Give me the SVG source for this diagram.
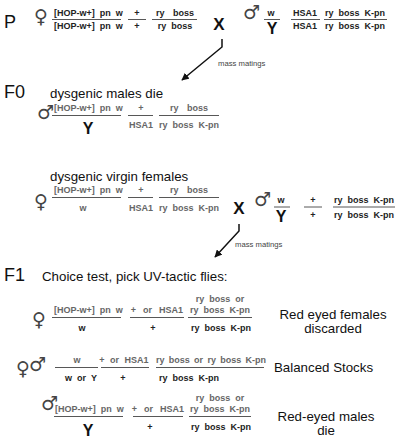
<svg xmlns="http://www.w3.org/2000/svg" width="401" height="443" viewBox="0 0 401 443">
<defs>
<style>
text{font-family:"Liberation Sans",Arial,sans-serif;}
.gen{font-size:18px;fill:#111;}
.lab{font-size:13.3px;fill:#111;}
.g{font-size:9px;font-weight:bold;fill:#222;word-spacing:2.5px;}
.gl{font-size:9px;font-weight:bold;fill:#666;word-spacing:2.5px;}
.or{word-spacing:4.5px;}
.c{text-anchor:middle;}
.big{font-size:16px;font-weight:bold;fill:#111;text-anchor:middle;}
.x{font-size:17px;font-weight:bold;fill:#111;text-anchor:middle;}
.sym{font-family:"DejaVu Sans",sans-serif;font-size:19px;fill:#444;}
.mm{font-size:7.7px;fill:#444;}
.bar{stroke:#444;stroke-width:0.9;}
.conn{stroke:#111;stroke-width:1.5;fill:none;}
</style>
<marker id="ah" viewBox="0 0 10 10" refX="9" refY="5" markerWidth="5" markerHeight="5" orient="auto">
<path d="M0,0 L10,5 L0,10 z" fill="#111"/>
</marker>
</defs>
<rect width="401" height="443" fill="#fff"/>

<g id="labels">
<text class="gen" x="4" y="28">P</text>
<text class="gen" x="4" y="98">F0</text>
<text class="gen" x="4" y="281">F1</text>
<text class="lab" x="50" y="98">dysgenic males die</text>
<text class="lab" x="50" y="181">dysgenic virgin females</text>
<text class="lab" x="42" y="281">Choice test, pick UV-tactic flies:</text>
</g>

<g id="connectors">
<polyline class="conn" points="222,39 222,47 182,80" marker-end="url(#ah)"/>
<text class="mm" x="218" y="66">mass matings</text>
<polyline class="conn" points="239,224 239,231 215,257" marker-end="url(#ah)"/>
<text class="mm" x="235" y="247">mass matings</text>
</g>

<g id="p-female">
<text class="sym" x="34" y="23">♀</text>
<text class="g" x="54" y="15.5">[HOP-w+] pn w</text>
<line class="bar" x1="52" y1="19.5" x2="121" y2="19.5"/>
<text class="g" x="54" y="29">[HOP-w+] pn w</text>
<text class="g c" x="137" y="15.5">+</text>
<line class="bar" x1="128" y1="19.5" x2="146" y2="19.5"/>
<text class="g c" x="137" y="29">+</text>
<text class="g c" x="175" y="15.5" style="word-spacing:6px">ry boss</text>
<line class="bar" x1="152" y1="19.5" x2="197" y2="19.5"/>
<text class="g c" x="175" y="29">ry boss</text>
</g>

<g id="p-cross"><text class="x" x="219" y="30">X</text></g>

<g id="p-male">
<text class="sym" x="243" y="19">♂</text>
<text class="g c" x="271" y="15.5">w</text>
<line class="bar" x1="264" y1="19.5" x2="280" y2="19.5"/>
<text class="big" x="272" y="34">Y</text>
<text class="g c" x="305" y="15.5">HSA1</text>
<line class="bar" x1="291" y1="19.5" x2="320" y2="19.5"/>
<text class="g c" x="305" y="29">HSA1</text>
<text class="g c" x="355" y="15.5">ry boss K-pn</text>
<line class="bar" x1="324" y1="19.5" x2="387" y2="19.5"/>
<text class="g c" x="355" y="29">ry boss K-pn</text>
</g>

<g id="f0-male">
<text class="sym" x="37" y="119">♂</text>
<text class="gl" x="54" y="111">[HOP-w+] pn w</text>
<line class="bar" x1="52" y1="115.5" x2="121" y2="115.5"/>
<text class="big" x="88" y="134">Y</text>
<text class="gl c" x="141" y="111">+</text>
<line class="bar" x1="128" y1="115.5" x2="153" y2="115.5"/>
<text class="gl c" x="141" y="128">HSA1</text>
<text class="gl c" x="189" y="111" style="word-spacing:6px">ry boss</text>
<line class="bar" x1="159" y1="115.5" x2="219" y2="115.5"/>
<text class="gl c" x="189" y="128">ry boss K-pn</text>
</g>

<g id="f0-female">
<text class="sym" x="34" y="208">♀</text>
<text class="gl" x="54" y="193">[HOP-w+] pn w</text>
<line class="bar" x1="52" y1="197.5" x2="121" y2="197.5"/>
<text class="gl c" x="83" y="211">w</text>
<text class="gl c" x="141" y="193">+</text>
<line class="bar" x1="128" y1="197.5" x2="153" y2="197.5"/>
<text class="gl c" x="141" y="211">HSA1</text>
<text class="gl c" x="189" y="193" style="word-spacing:6px">ry boss</text>
<line class="bar" x1="159" y1="197.5" x2="219" y2="197.5"/>
<text class="gl c" x="189" y="211">ry boss K-pn</text>
</g>

<g id="f0-cross"><text class="x" x="239" y="214">X</text></g>

<g id="f0-male2">
<text class="sym" x="254" y="206">♂</text>
<text class="g c" x="281" y="203">w</text>
<line class="bar" x1="274" y1="207" x2="290" y2="207"/>
<text class="big" x="281" y="222">Y</text>
<text class="g c" x="313" y="203">+</text>
<line class="bar" x1="304" y1="207" x2="322" y2="207"/>
<text class="g c" x="313" y="218">+</text>
<text class="g c" x="364" y="203">ry boss K-pn</text>
<line class="bar" x1="333" y1="207" x2="395" y2="207"/>
<text class="g c" x="364" y="218">ry boss K-pn</text>
</g>

<g id="f1-females">
<text class="sym" x="32" y="326">♀</text>
<text class="gl" x="54" y="313">[HOP-w+] pn w</text>
<line class="bar" x1="52" y1="317.5" x2="121" y2="317.5"/>
<text class="g c" x="82" y="331">w</text>
<text class="gl c or" x="157" y="313">+ or HSA1</text>
<line class="bar" x1="130" y1="317.5" x2="184" y2="317.5"/>
<text class="g c" x="153" y="331">+</text>
<text class="gl c" x="220" y="302">ry boss or</text>
<text class="gl c" x="220" y="313">ry boss K-pn</text>
<line class="bar" x1="188" y1="317.5" x2="252" y2="317.5"/>
<text class="g c" x="221" y="331">ry boss K-pn</text>
<text class="lab c" x="333" y="319">Red eyed females</text>
<text class="lab c" x="333" y="333">discarded</text>
</g>

<g id="f1-balanced">
<text class="sym" x="16" y="375">♀</text>
<text class="sym" x="29" y="371">♂</text>
<text class="gl c" x="77" y="363">w</text>
<line class="bar" x1="55" y1="367.5" x2="98" y2="367.5"/>
<text class="g c" x="81" y="381">w or Y</text>
<text class="gl c" x="124" y="363" style="word-spacing:3px">+ or HSA1</text>
<line class="bar" x1="101" y1="367.5" x2="149" y2="367.5"/>
<text class="g c" x="123" y="381">+</text>
<text class="gl c" x="211" y="363" style="word-spacing:1.8px">ry boss or ry boss K-pn</text>
<line class="bar" x1="156" y1="367.5" x2="264" y2="367.5"/>
<text class="g c" x="189" y="381">ry boss K-pn</text>
<text class="lab" x="274" y="372">Balanced Stocks</text>
</g>

<g id="f1-males">
<text class="sym" x="41" y="410">♂</text>
<text class="gl" x="55" y="412">[HOP-w+] pn w</text>
<line class="bar" x1="54" y1="416.5" x2="123" y2="416.5"/>
<text class="big" x="88" y="436">Y</text>
<text class="gl c or" x="158" y="412">+ or HSA1</text>
<line class="bar" x1="133" y1="416.5" x2="183" y2="416.5"/>
<text class="g c" x="150" y="430">+</text>
<text class="gl c" x="220" y="401">ry boss or</text>
<text class="gl c" x="220" y="412">ry boss K-pn</text>
<line class="bar" x1="189" y1="416.5" x2="251" y2="416.5"/>
<text class="g c" x="221" y="430">ry boss K-pn</text>
<text class="lab c" x="326" y="421">Red-eyed males</text>
<text class="lab c" x="326" y="435">die</text>
</g>
</svg>
